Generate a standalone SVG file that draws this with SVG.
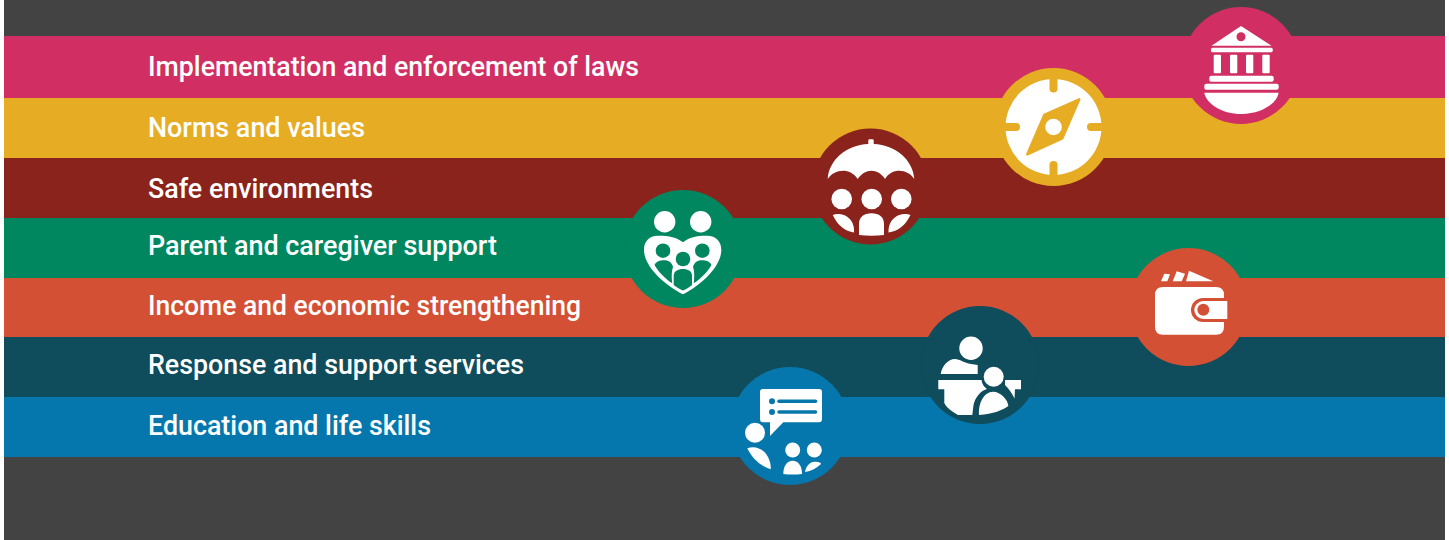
<svg xmlns="http://www.w3.org/2000/svg" width="1449" height="540" viewBox="0 0 1449 540">
<style>
.lbl{font-family:"Roboto","Liberation Sans",sans-serif;font-size:28px;font-weight:500;fill:#fff}
.w{fill:#fff}
</style>
<rect width="1449" height="540" fill="#fff"/>
<rect x="4" y="0" width="1441" height="540" fill="#434343"/>
<g id="band-laws"><rect x="4" y="36" width="1441" height="62" fill="#D12E63"/></g>
<g id="band-norms"><rect x="4" y="98" width="1441" height="60" fill="#E6AC23"/></g>
<g id="band-safe"><rect x="4" y="158" width="1441" height="60" fill="#8A231C"/></g>
<g id="band-parent"><rect x="4" y="218" width="1441" height="60" fill="#00875F"/></g>
<g id="band-income"><rect x="4" y="278" width="1441" height="59" fill="#D45035"/></g>
<g id="band-response"><rect x="4" y="337" width="1441" height="60" fill="#0F4C5C"/></g>
<g id="band-education"><rect x="4" y="397" width="1441" height="60" fill="#0677AC"/></g>
<g id="labels">
<text class="lbl" x="148" y="76" textLength="491" lengthAdjust="spacingAndGlyphs">Implementation and enforcement of laws</text>
<text class="lbl" x="148" y="136.500" textLength="217" lengthAdjust="spacingAndGlyphs">Norms and values</text>
<text class="lbl" x="148" y="197.500" textLength="225" lengthAdjust="spacingAndGlyphs">Safe environments</text>
<text class="lbl" x="148" y="255" textLength="349" lengthAdjust="spacingAndGlyphs">Parent and caregiver support</text>
<text class="lbl" x="148" y="315" textLength="433" lengthAdjust="spacingAndGlyphs">Income and economic strengthening</text>
<text class="lbl" x="148" y="374" textLength="376" lengthAdjust="spacingAndGlyphs">Response and support services</text>
<text class="lbl" x="148" y="434.500" textLength="283" lengthAdjust="spacingAndGlyphs">Education and life skills</text>
</g>
<g id="icon-laws">
<circle cx="1241" cy="65.500" r="58.500" fill="#D12E63"/>
<path class="w" d="M1241 26 L1271.500 45.700 H1211.500 Z"/>
<circle cx="1241" cy="36.700" r="4.500" fill="#D12E63"/>
<rect class="w" x="1211" y="47.700" width="61.700" height="4.600" rx="1.500"/>
<rect class="w" x="1213.700" y="54.700" width="7.300" height="18.600" rx="1"/>
<rect class="w" x="1230" y="54.700" width="7.300" height="18.600" rx="1"/>
<rect class="w" x="1246" y="54.700" width="7.300" height="18.600" rx="1"/>
<rect class="w" x="1262.300" y="54.700" width="7.400" height="18.600" rx="1"/>
<rect class="w" x="1209.300" y="75.700" width="64.400" height="6" rx="2"/>
<rect class="w" x="1204.300" y="83.700" width="74.400" height="6" rx="2"/>
<path class="w" d="M1204.300 92.700 H1278.700 C1277 103 1262 114 1241.500 114 C1221 114 1206 103 1204.300 92.700Z"/>
</g>
<g id="icon-norms">
<circle cx="1053.500" cy="127" r="59" fill="#E6AC23"/>
<circle class="w" cx="1053.500" cy="127" r="48"/>
<g stroke="#E6AC23" stroke-width="8" stroke-linecap="round">
<path d="M1053.500 76 V88.500"/><path d="M1053.500 178 V165"/><path d="M1004 127 H1016"/><path d="M1103 127 H1091"/>
</g>
<path d="M1079.300 99.300 L1044.300 115 L1027.300 154.300 L1062.300 138.300Z" fill="#E6AC23" stroke="#E6AC23" stroke-width="2.500" stroke-linejoin="round"/>
<circle class="w" cx="1053.500" cy="127" r="8.300"/>
</g>
<g id="icon-safe">
<circle cx="870.500" cy="186.500" r="58" fill="#8A231C"/>
<path class="w" d="M868.300 144 V140.500 Q868.300 139.300 869.500 139.300 H872.500 Q873.700 139.300 873.700 140.500 V144 C896 145 913 160 914.300 179 C908 169 892 167 885 179 C878 168 865 168 857.700 179 C850 167 834 169 827.700 179 C829 160 846 145 868.300 144Z"/>
<circle class="w" cx="841.700" cy="199" r="10.300"/><circle class="w" cx="871.700" cy="199" r="10.300"/><circle class="w" cx="901.300" cy="199" r="10.300"/>
<path class="w" d="M832.700 215 C840 212 855 216 854 232.500 C845 231 838 226 832.700 215Z"/>
<path class="w" d="M859 235 V224 C859 217 864 213.300 871.500 213.300 C879 213.300 884 217 884 224 V235 Q871.500 236.500 859 235Z"/>
<path class="w" d="M910.500 215 C903 212 888 216 888.500 232.500 C898 231 905 226 910.500 215Z"/>
</g>
<g id="icon-parent">
<circle cx="683" cy="249" r="59" fill="#00875F"/>
<circle class="w" cx="664.700" cy="221.700" r="10.700"/><circle class="w" cx="700.700" cy="221.700" r="10.700"/>
<path class="w" d="M683 242.300 C677 237 667 235.500 658 235.700 C649 236 644 241 644 250 C644 268 668 287 683 294.300 C698 287 721.300 268 721.300 250 C721.300 241 716 236 707 235.700 C698 235.500 689 237 683 242.300Z"/>
<circle cx="663" cy="250.700" r="7.300" fill="#00875F"/><circle cx="683" cy="259" r="7.300" fill="#00875F"/><circle cx="702.300" cy="250.700" r="7.300" fill="#00875F"/>
<path fill="#00875F" d="M654.500 265 C656 261.500 660 260.300 664 260.300 C669 260.300 672 263 673 267 C671.500 271 671.500 278 672.300 283.300 C664.500 278.500 658.500 271.500 654.500 265Z"/>
<path fill="#00875F" d="M673.700 285 V276 C673.700 271 678 269 683 269 C688 269 692 271 692 276 V285 C689 287.500 686 289.500 683 290.500 C680 289.500 677 287.500 673.700 285Z"/>
<path fill="#00875F" d="M711.500 265 C710 261.500 706 260.300 702 260.300 C697 260.300 694 263 693 267 C694.500 271 694.500 278 693.700 283.300 C701.500 278.500 707.500 271.500 711.500 265Z"/>
</g>
<g id="icon-income">
<circle cx="1188.500" cy="307" r="59" fill="#D45035"/>
<path class="w" d="M1164.300 273.700 L1170 274.300 L1167.300 281.300 H1161Z"/>
<path class="w" d="M1176.700 271.300 L1185 273.700 L1181.700 281.300 H1172.700Z"/>
<path class="w" d="M1189 270.700 L1213.300 281.300 H1186Z"/>
<path class="w" d="M1163 287 H1216 Q1224 287 1224 295 V326.700 Q1224 334.700 1216 334.700 H1163 Q1155 334.700 1155 326.700 V295 Q1155 287 1163 287Z"/>
<path d="M1227.300 298 H1203 A12 12 0 0 0 1203 322 H1227.300Z" fill="#D45035"/>
<path class="w" d="M1227.300 301 H1203.300 A9 9 0 0 0 1203.300 319 H1227.300Z"/>
<circle cx="1203.300" cy="309.700" r="6" fill="#D45035"/>
</g>
<g id="icon-response">
<circle cx="980" cy="365" r="59" fill="#0F4C5C"/>
<circle class="w" cx="971" cy="348.300" r="11.700"/>
<path class="w" d="M940.700 374 C942 366 948 359 955 359 C960 359 964 363 971 364 L977.700 365 V374Z"/>
<path class="w" d="M938.300 380 H981.500 C982 384 984 387 987 389 C980 391 975 398 973.500 405 L972.300 415 H958 C951 411 946 407 944.300 403 V389.300 H938.300Z"/>
<path class="w" d="M1005 380 H1021 V389.300 H1015 L1014.500 398.500 C1012 393 1009 389 1005 385Z"/>
<circle class="w" cx="993.700" cy="376.700" r="10"/>
<path class="w" d="M979 415 C978 403 984 392 993 391.700 C1001 391.700 1008 400 1008.300 406 C1003 410 993 414 979 415Z"/>
</g>
<g id="icon-education">
<circle cx="790" cy="426" r="59" fill="#0677AC"/>
<path class="w" d="M763 389 H819 Q822 389 822 392 V419 Q822 422.300 819 422.300 H783.300 L770 436 V422.300 H763 Q760 422.300 760 419 V392 Q760 389 763 389Z"/>
<circle cx="772" cy="401.300" r="3" fill="#0677AC"/><circle cx="772" cy="412" r="3" fill="#0677AC"/>
<g stroke="#0677AC" stroke-width="3.500" stroke-linecap="round"><path d="M779 401.300 H815.500"/><path d="M779 412 H815.500"/></g>
<circle class="w" cx="755" cy="432.700" r="10"/>
<path class="w" d="M747.300 448.300 C755 445 764 449 768 457 C770 461 771 465 770.700 469.300 C760 466 752 458 747.300 448.300Z"/>
<circle class="w" cx="792.700" cy="450" r="7.500"/><circle class="w" cx="814.300" cy="450" r="7.500"/>
<path class="w" d="M783.300 474 C783.300 466 787 460.700 792.700 460.700 C798.300 460.700 802 466 802 474 Q793 475 783.300 474Z"/>
<path class="w" d="M805 472 C806 466 810 461.500 815 461.700 C818 461.700 821 462.500 821 464 C817 468 811 471 805 472Z"/>
</g>
</svg>
